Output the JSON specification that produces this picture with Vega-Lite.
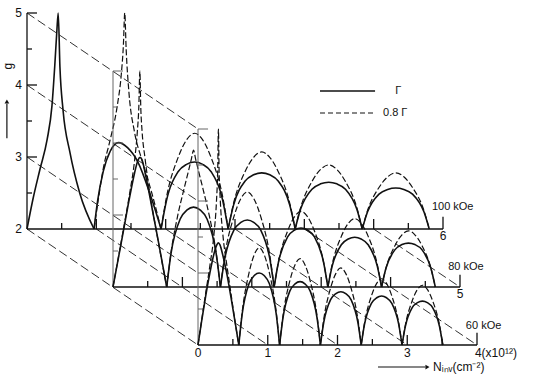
{
"$schema":"https://vega.github.io/schema/vega-lite/v6.json",
"width":535,"height":380,"autosize":{"type":"none"},"padding":0,
"background":"white",
"config":{"view":{"stroke":null},"text":{"font":"Liberation Sans","color":"#111"}},
"datasets":{
"Bc":[
{"a":1,"k":"s","n":[0,0.087,0.187,0.29,0.36,0.4,0.43,0.45,0.475,0.52,0.62,0.76,0.967],"g":[2,2.42,2.83,3.24,3.71,4.26,4.74,5,4.25,3.65,3.06,2.5,2]},
{"a":2,"k":"s","n":[0.967,1.02,1.1,1.2,1.32,1.45,1.6,1.77,1.934],"g":[2,2.4,2.8,3.08,3.2,3.13,2.93,2.5,2]},
{"a":2,"k":"d","n":[0.967,1.03,1.1,1.2,1.3,1.36,1.39,1.41,1.43,1.47,1.55,1.66,1.8,1.934],"g":[2,2.42,2.84,3.24,3.7,4.15,4.55,5,4.5,3.9,3.35,2.95,2.5,2]},
{"a":3,"k":"d","n":[1.934,2.011,2.176,2.301,2.418,2.534,2.659,2.824,2.901],"g":[2,2.439,2.984,3.237,3.33,3.237,2.984,2.439,2]},
{"a":3,"k":"s","n":[1.934,2.011,2.176,2.301,2.418,2.534,2.659,2.824,2.901],"g":[2,2.391,2.791,2.897,2.93,2.897,2.791,2.391,2]},
{"a":4,"k":"d","n":[2.901,2.978,3.143,3.268,3.385,3.501,3.626,3.791,3.868],"g":[2,2.353,2.792,2.995,3.07,2.995,2.792,2.353,2]},
{"a":4,"k":"s","n":[2.901,2.978,3.143,3.268,3.385,3.501,3.626,3.791,3.868],"g":[2,2.328,2.663,2.753,2.78,2.753,2.663,2.328,2]},
{"a":5,"k":"d","n":[3.868,3.945,4.11,4.235,4.352,4.468,4.593,4.758,4.835],"g":[2,2.294,2.659,2.828,2.89,2.828,2.659,2.294,2]},
{"a":5,"k":"s","n":[3.868,3.945,4.11,4.235,4.352,4.468,4.593,4.758,4.835],"g":[2,2.273,2.553,2.627,2.65,2.627,2.553,2.273,2]},
{"a":6,"k":"d","n":[4.835,4.912,5.077,5.202,5.319,5.435,5.56,5.725,5.802],"g":[2,2.257,2.577,2.725,2.78,2.725,2.577,2.257,2]},
{"a":6,"k":"s","n":[4.835,4.912,5.077,5.202,5.319,5.435,5.56,5.725,5.802],"g":[2,2.239,2.485,2.55,2.57,2.55,2.485,2.239,2]}
],
"Mc":[
{"a":1,"k":"s","n":[0,0.062,0.15,0.24,0.31,0.36,0.39,0.42,0.47,0.55,0.65,0.774],"g":[2,2.32,2.78,3.25,3.58,3.76,3.8,3.76,3.55,3.16,2.65,2]},
{"a":1,"k":"d","n":[0,0.062,0.15,0.24,0.31,0.35,0.372,0.387,0.4,0.42,0.46,0.53,0.63,0.774],"g":[2,2.33,2.8,3.3,3.75,4.15,4.5,5,4.5,4.15,3.8,3.3,2.75,2]},
{"a":2,"k":"s","n":[0.774,0.836,0.968,1.068,1.161,1.254,1.355,1.486,1.548],"g":[2,2.466,2.944,3.071,3.11,3.071,2.944,2.466,2]},
{"a":2,"k":"d","n":[0.774,0.836,0.93,1.02,1.09,1.13,1.161,1.19,1.23,1.3,1.39,1.486,1.548],"g":[2,2.48,2.98,3.35,3.62,3.78,3.9,3.78,3.62,3.35,2.98,2.48,2]},
{"a":3,"k":"d","n":[1.548,1.61,1.742,1.842,1.935,2.028,2.129,2.26,2.322],"g":[2,2.436,2.977,3.228,3.32,3.228,2.977,2.436,2]},
{"a":3,"k":"s","n":[1.548,1.61,1.742,1.842,1.935,2.028,2.129,2.26,2.322],"g":[2,2.391,2.791,2.897,2.93,2.897,2.791,2.391,2]},
{"a":4,"k":"d","n":[2.322,2.384,2.516,2.616,2.709,2.802,2.903,3.034,3.096],"g":[2,2.347,2.777,2.977,3.05,2.977,2.777,2.347,2]},
{"a":4,"k":"s","n":[2.322,2.384,2.516,2.616,2.709,2.802,2.903,3.034,3.096],"g":[2,2.344,2.697,2.791,2.82,2.791,2.697,2.344,2]},
{"a":5,"k":"d","n":[3.096,3.158,3.29,3.39,3.483,3.576,3.677,3.808,3.87],"g":[2,2.314,2.703,2.884,2.95,2.884,2.703,2.314,2]},
{"a":5,"k":"s","n":[3.096,3.158,3.29,3.39,3.483,3.576,3.677,3.808,3.87],"g":[2,2.29,2.587,2.666,2.69,2.666,2.587,2.29,2]},
{"a":6,"k":"d","n":[3.87,3.932,4.064,4.164,4.257,4.35,4.451,4.582,4.644],"g":[2,2.257,2.577,2.725,2.78,2.725,2.577,2.257,2]},
{"a":6,"k":"s","n":[3.87,3.932,4.064,4.164,4.257,4.35,4.451,4.582,4.644],"g":[2,2.256,2.519,2.589,2.61,2.589,2.519,2.256,2]}
],
"Fc":[
{"a":1,"k":"s","n":[0,0.047,0.11,0.17,0.23,0.27,0.2925,0.315,0.355,0.415,0.475,0.535,0.585],"g":[2,2.3,2.68,3.0,3.27,3.39,3.42,3.39,3.25,2.98,2.65,2.3,2]},
{"a":1,"k":"d","n":[0,0.047,0.11,0.17,0.23,0.265,0.283,0.2925,0.302,0.32,0.355,0.415,0.475,0.535,0.585],"g":[2,2.31,2.72,3.1,3.55,4.0,4.45,5,4.45,4.0,3.55,3.1,2.7,2.3,2]},
{"a":2,"k":"d","n":[0.585,0.632,0.731,0.807,0.8775,0.948,1.024,1.123,1.17],"g":[2,2.446,2.999,3.256,3.35,3.256,2.999,2.446,2]},
{"a":2,"k":"s","n":[0.585,0.632,0.731,0.807,0.8775,0.948,1.024,1.123,1.17],"g":[2,2.42,2.85,2.965,3.0,2.965,2.85,2.42,2]},
{"a":3,"k":"d","n":[1.17,1.217,1.316,1.392,1.4625,1.533,1.609,1.708,1.755],"g":[2,2.396,2.888,3.116,3.2,3.116,2.888,2.396,2]},
{"a":3,"k":"s","n":[1.17,1.217,1.316,1.392,1.4625,1.533,1.609,1.708,1.755],"g":[2,2.37,2.748,2.849,2.88,2.849,2.748,2.37,2]},
{"a":4,"k":"d","n":[1.755,1.802,1.901,1.977,2.0475,2.118,2.194,2.293,2.34],"g":[2,2.353,2.792,2.995,3.07,2.995,2.792,2.353,2]},
{"a":4,"k":"s","n":[1.755,1.802,1.901,1.977,2.0475,2.118,2.194,2.293,2.34],"g":[2,2.311,2.629,2.714,2.74,2.714,2.629,2.311,2]},
{"a":5,"k":"d","n":[2.34,2.387,2.486,2.562,2.6325,2.703,2.779,2.878,2.925],"g":[2,2.304,2.681,2.856,2.92,2.856,2.681,2.304,2]},
{"a":5,"k":"s","n":[2.34,2.387,2.486,2.562,2.6325,2.703,2.779,2.878,2.925],"g":[2,2.286,2.578,2.656,2.68,2.656,2.578,2.286,2]},
{"a":6,"k":"d","n":[2.925,2.972,3.071,3.147,3.2175,3.288,3.364,3.463,3.51],"g":[2,2.274,2.614,2.772,2.83,2.772,2.614,2.274,2]},
{"a":6,"k":"s","n":[2.925,2.972,3.071,3.147,3.2175,3.288,3.364,3.463,3.51],"g":[2,2.256,2.519,2.589,2.61,2.589,2.519,2.256,2]}
],
"diag":[
{"n":0,"g":5,"n2":2.466,"g2":3.389},{"n":0,"g":4,"n2":2.466,"g2":2.389},{"n":0,"g":3,"n2":2.466,"g2":1.389},{"n":0,"g":2,"n2":2.466,"g2":0.389},
{"n":1,"g":2,"n2":3.472,"g2":0.389},{"n":2,"g":2,"n2":4.478,"g2":0.389},{"n":3,"g":2,"n2":5.484,"g2":0.389},{"n":4,"g":2,"n2":6.49,"g2":0.389},{"n":5,"g":2,"n2":6.245,"g2":1.194}
],
"Br":[
{"n":0,"g":2,"n2":0,"g2":5},{"n":0,"g":2,"n2":6,"g2":2},
{"n":0,"g":5,"n2":0.144,"g2":5},{"n":0,"g":4,"n2":0.144,"g2":4},{"n":0,"g":3,"n2":0.144,"g2":3},
{"n":0,"g":4.5,"n2":0.072,"g2":4.5},{"n":0,"g":3.5,"n2":0.072,"g2":3.5},{"n":0,"g":2.5,"n2":0.072,"g2":2.5},
{"n":0.5,"g":2,"n2":0.5,"g2":2.083},{"n":1,"g":2,"n2":1,"g2":2.139},{"n":1.5,"g":2,"n2":1.5,"g2":2.083},{"n":2,"g":2,"n2":2,"g2":2.139},
{"n":2.5,"g":2,"n2":2.5,"g2":2.083},{"n":3,"g":2,"n2":3,"g2":2.139},{"n":3.5,"g":2,"n2":3.5,"g2":2.083},{"n":4,"g":2,"n2":4,"g2":2.139},
{"n":4.5,"g":2,"n2":4.5,"g2":2.083},{"n":5,"g":2,"n2":5,"g2":2.139},{"n":5.5,"g":2,"n2":5.5,"g2":2.083},{"n":6,"g":2,"n2":6,"g2":2.17}
],
"Mr":[
{"n":0,"g":2,"n2":5,"g2":2},
{"n":0.5,"g":2,"n2":0.5,"g2":2.083},{"n":1,"g":2,"n2":1,"g2":2.139},{"n":1.5,"g":2,"n2":1.5,"g2":2.083},{"n":2,"g":2,"n2":2,"g2":2.139},
{"n":2.5,"g":2,"n2":2.5,"g2":2.083},{"n":3,"g":2,"n2":3,"g2":2.139},{"n":3.5,"g":2,"n2":3.5,"g2":2.083},{"n":4,"g":2,"n2":4,"g2":2.139},
{"n":4.5,"g":2,"n2":4.5,"g2":2.083},{"n":5,"g":2,"n2":5,"g2":2.17}
],
"Fr":[
{"n":0,"g":2,"n2":4,"g2":2},
{"n":0.5,"g":2,"n2":0.5,"g2":2.083},{"n":1,"g":2,"n2":1,"g2":2.139},{"n":1.5,"g":2,"n2":1.5,"g2":2.083},{"n":2,"g":2,"n2":2,"g2":2.139},
{"n":2.5,"g":2,"n2":2.5,"g2":2.083},{"n":3,"g":2,"n2":3,"g2":2.139},{"n":3.5,"g":2,"n2":3.5,"g2":2.083},{"n":4,"g":2,"n2":4,"g2":2.17}
],
"Ax":[
{"n":0,"g":2,"n2":0,"g2":5},
{"n":0,"g":5,"n2":0.144,"g2":5},{"n":0,"g":4,"n2":0.144,"g2":4},{"n":0,"g":3,"n2":0.144,"g2":3},
{"n":0,"g":4.5,"n2":0.072,"g2":4.5},{"n":0,"g":3.5,"n2":0.072,"g2":3.5},{"n":0,"g":2.5,"n2":0.072,"g2":2.5}
]
},
"layer":[
{
"encoding":{
"x":{"field":"n","type":"quantitative","scale":{"domain":[0,6],"range":[27,443],"nice":false,"zero":false},"axis":null},
"y":{"field":"g","type":"quantitative","scale":{"domain":[2,5],"range":[229,13],"nice":false,"zero":false},"axis":null}
},
"layer":[
{"data":{"name":"diag"},"mark":{"type":"rule","color":"#333","strokeWidth":1,"strokeDash":[9,4]},"encoding":{"x2":{"field":"n2"},"y2":{"field":"g2"}}},
{"data":{"name":"Br"},"mark":{"type":"rule","color":"#111","strokeWidth":1.3},"encoding":{"x2":{"field":"n2"},"y2":{"field":"g2"}}},
{"data":{"name":"Bc"},"transform":[{"flatten":["n","g"]},{"filter":"datum.k=='d'"}],"mark":{"type":"line","interpolate":"monotone","color":"#111","strokeWidth":1.2,"strokeDash":[6,2.5]},"encoding":{"detail":{"field":"a","type":"nominal"}}},
{"data":{"name":"Bc"},"transform":[{"flatten":["n","g"]},{"filter":"datum.k=='s'"}],"mark":{"type":"line","interpolate":"monotone","color":"#111","strokeWidth":1.6},"encoding":{"detail":{"field":"a","type":"nominal"}}},
{"data":{"values":[{"n":4.226,"g":3.917,"n2":5.02,"g2":3.917}]},"mark":{"type":"rule","color":"#111","strokeWidth":1.5},"encoding":{"x2":{"field":"n2"},"y2":{"field":"g2"}}},
{"data":{"values":[{"n":4.226,"g":3.611,"n2":5.02,"g2":3.611}]},"mark":{"type":"rule","color":"#111","strokeWidth":1.2,"strokeDash":[5,3]},"encoding":{"x2":{"field":"n2"},"y2":{"field":"g2"}}},
{"data":{"values":[{"n":-0.29,"g":3.26,"n2":-0.29,"g2":3.74}]},"mark":{"type":"rule","color":"#111","strokeWidth":1.2},"encoding":{"x2":{"field":"n2"},"y2":{"field":"g2"}}},
{"data":{"values":[{"n":-0.29,"g":3.77}]},"mark":{"type":"point","shape":"triangle-up","filled":true,"size":22,"color":"#111","opacity":1}},
{"data":{"values":[{"n":-0.27,"g":4.26,"t":"g"}]},"mark":{"type":"text","angle":270,"fontSize":12,"baseline":"middle","align":"center"},"encoding":{"text":{"field":"t"}}},
{"data":{"values":[{"n":0,"g":5,"t":"5"},{"n":0,"g":4,"t":"4"},{"n":0,"g":3,"t":"3"},{"n":0,"g":2,"t":"2"}]},"mark":{"type":"text","align":"right","baseline":"middle","dx":-5,"fontSize":12},"encoding":{"text":{"field":"t"}}},
{"data":{"values":[{"n":6,"g":2,"t":"6"}]},"mark":{"type":"text","align":"center","baseline":"top","dy":2,"fontSize":12},"encoding":{"text":{"field":"t"}}},
{"data":{"values":[{"n":5.84,"g":2.31,"t":"100 kOe"},{"n":5.31,"g":3.917,"t":"Γ"},{"n":5.135,"g":3.611,"t":"0.8 Γ"}]},"mark":{"type":"text","align":"left","baseline":"middle","fontSize":11},"encoding":{"text":{"field":"t"}}}
]
},
{
"encoding":{
"x":{"field":"n","type":"quantitative","scale":{"domain":[0,5],"range":[113,460],"nice":false,"zero":false},"axis":null},
"y":{"field":"g","type":"quantitative","scale":{"domain":[2,5],"range":[287,71],"nice":false,"zero":false},"axis":null}
},
"layer":[
{"data":{"name":"Ax"},"mark":{"type":"rule","color":"#666","strokeWidth":1},"encoding":{"x2":{"field":"n2"},"y2":{"field":"g2"}}},
{"data":{"name":"Mr"},"mark":{"type":"rule","color":"#111","strokeWidth":1.3},"encoding":{"x2":{"field":"n2"},"y2":{"field":"g2"}}},
{"data":{"name":"Mc"},"transform":[{"flatten":["n","g"]},{"filter":"datum.k=='d'"}],"mark":{"type":"line","interpolate":"monotone","color":"#111","strokeWidth":1.2,"strokeDash":[6,2.5]},"encoding":{"detail":{"field":"a","type":"nominal"}}},
{"data":{"name":"Mc"},"transform":[{"flatten":["n","g"]},{"filter":"datum.k=='s'"}],"mark":{"type":"line","interpolate":"monotone","color":"#111","strokeWidth":1.6},"encoding":{"detail":{"field":"a","type":"nominal"}}},
{"data":{"values":[{"n":5,"g":2,"t":"5"}]},"mark":{"type":"text","align":"center","baseline":"top","dy":2,"fontSize":12},"encoding":{"text":{"field":"t"}}},
{"data":{"values":[{"n":4.83,"g":2.28,"t":"80 kOe"}]},"mark":{"type":"text","align":"left","baseline":"middle","fontSize":11},"encoding":{"text":{"field":"t"}}}
]
},
{
"encoding":{
"x":{"field":"n","type":"quantitative","scale":{"domain":[0,4],"range":[198,477],"nice":false,"zero":false},"axis":null},
"y":{"field":"g","type":"quantitative","scale":{"domain":[2,5],"range":[345,129],"nice":false,"zero":false},"axis":null}
},
"layer":[
{"data":{"name":"Ax"},"mark":{"type":"rule","color":"#666","strokeWidth":1},"encoding":{"x2":{"field":"n2"},"y2":{"field":"g2"}}},
{"data":{"name":"Fr"},"mark":{"type":"rule","color":"#111","strokeWidth":1.3},"encoding":{"x2":{"field":"n2"},"y2":{"field":"g2"}}},
{"data":{"name":"Fc"},"transform":[{"flatten":["n","g"]},{"filter":"datum.k=='d'"}],"mark":{"type":"line","interpolate":"monotone","color":"#111","strokeWidth":1.2,"strokeDash":[6,2.5]},"encoding":{"detail":{"field":"a","type":"nominal"}}},
{"data":{"name":"Fc"},"transform":[{"flatten":["n","g"]},{"filter":"datum.k=='s'"}],"mark":{"type":"line","interpolate":"monotone","color":"#111","strokeWidth":1.6},"encoding":{"detail":{"field":"a","type":"nominal"}}},
{"data":{"values":[{"n":0,"g":2,"t":"0"},{"n":1,"g":2,"t":"1"},{"n":2,"g":2,"t":"2"},{"n":3,"g":2,"t":"3"}]},"mark":{"type":"text","align":"center","baseline":"top","dy":3,"fontSize":12},"encoding":{"text":{"field":"t"}}},
{"data":{"values":[{"n":3.97,"g":2,"t":"4(x10¹²)"}]},"mark":{"type":"text","align":"left","baseline":"top","dy":3,"fontSize":12},"encoding":{"text":{"field":"t"}}},
{"data":{"values":[{"n":3.84,"g":2.26,"t":"60 kOe"}]},"mark":{"type":"text","align":"left","baseline":"middle","fontSize":11},"encoding":{"text":{"field":"t"}}},
{"data":{"values":[{"n":2.58,"g":1.694,"n2":3.26,"g2":1.694}]},"mark":{"type":"rule","color":"#111","strokeWidth":1.1},"encoding":{"x2":{"field":"n2"},"y2":{"field":"g2"}}},
{"data":{"values":[{"n":3.29,"g":1.694}]},"mark":{"type":"point","shape":"triangle-right","filled":true,"size":22,"color":"#111","opacity":1}},
{"data":{"values":[{"n":3.37,"g":1.694,"t":"Nᵢₙᵥ(cm⁻²)"}]},"mark":{"type":"text","align":"left","baseline":"middle","fontSize":12},"encoding":{"text":{"field":"t"}}}
]
}
],
"resolve":{"scale":{"x":"independent","y":"independent"}}
}
